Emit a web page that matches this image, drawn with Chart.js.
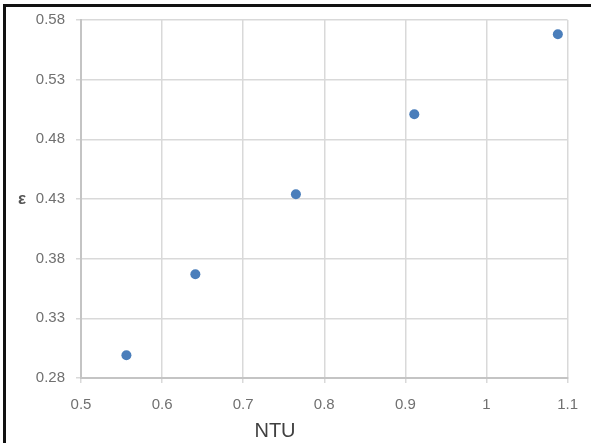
<!DOCTYPE html>
<html>
<head>
<meta charset="utf-8">
<script src="https://cdn.jsdelivr.net/npm/chart.js@4.4.1/dist/chart.umd.min.js"></script>
<style>
    html, body { margin: 0; padding: 0; background: #fff; }
    #wrap { position: relative; width: 591px; height: 443px; overflow: hidden; }
    #chart { position: absolute; left: 0; top: 0; }
    #frame {
        position: absolute; left: 3px; top: 4px; width: 588px; height: 436px;
        border-top: 3px solid #111; border-left: 3px solid #111; border-bottom: 1px solid #b0b0b0;
        pointer-events: none;
    }
</style>
</head>
<body>
<div id="wrap">
    <canvas id="chart" width="591" height="443"></canvas>
    <div id="frame"></div>
</div>
<script>
// NTU vs effectiveness
const ntu = [0.556, 0.641, 0.765, 0.911, 1.088];
const effectiveness = [0.299, 0.367, 0.434, 0.501, 0.568];
const xTicks = [0.5, 0.6, 0.7, 0.8, 0.9, 1, 1.1];
const yTicks = [0.28, 0.33, 0.38, 0.43, 0.48, 0.53, 0.58];

const tickFont = { family: "'Liberation Sans Narrow', 'Liberation Sans', sans-serif", size: 15 };

// axis titles placed like the original sheet (NTU off-centre, ε beside 0.43)
const axisLabels = {
    id: 'axisLabels',
    afterDraw(chart) {
        const ctx = chart.ctx;
        const y = chart.scales.y;
        ctx.save();
        ctx.fillStyle = '#404040';
        ctx.font = "20px 'Liberation Sans Narrow', 'Liberation Sans', sans-serif";
        ctx.textAlign = 'center';
        ctx.textBaseline = 'middle';
        ctx.fillText('NTU', 275, 431);
        ctx.fillStyle = '#555555';
        ctx.font = "bold 17px 'Liberation Sans', sans-serif";
        ctx.fillText('ε', 22, y.getPixelForValue(0.43));
        ctx.restore();
    }
};

new Chart(document.getElementById('chart'), {
    type: 'scatter',
    data: {
        datasets: [{
            data: ntu.map((x, i) => ({ x: x, y: effectiveness[i] })),
            backgroundColor: '#4a7ebb',
            borderColor: '#4a7ebb',
            borderWidth: 0,
            pointRadius: 5,
            pointHoverRadius: 5
        }]
    },
    options: {
        responsive: false,
        animation: false,
        layout: { padding: { left: 6, right: 21, top: 18, bottom: 5 } },
        plugins: {
            legend: { display: false },
            tooltip: { enabled: false }
        },
        scales: {
            x: {
                type: 'linear',
                min: xTicks[0],
                max: xTicks[xTicks.length - 1],
                afterBuildTicks: scale => { scale.ticks = xTicks.map(v => ({ value: v })); },
                afterFit: scale => { scale.height = 60; },
                grid: { color: '#d9d9d9', lineWidth: 1.5, tickLength: 5 },
                border: { color: '#c4c4c4', width: 2 },
                ticks: {
                    color: '#707070',
                    font: tickFont,
                    padding: 13,
                    maxRotation: 0,
                    callback: v => String(Number(v.toFixed(2)))
                }
            },
            y: {
                type: 'linear',
                min: yTicks[0],
                max: yTicks[yTicks.length - 1],
                afterBuildTicks: scale => { scale.ticks = yTicks.map(v => ({ value: v })); },
                afterFit: scale => { scale.width = 75; },
                grid: { color: '#d9d9d9', lineWidth: 1.5, tickLength: 5 },
                border: { color: '#c4c4c4', width: 2 },
                ticks: {
                    color: '#707070',
                    font: tickFont,
                    padding: 11,
                    callback: v => v.toFixed(2)
                }
            }
        }
    },
    plugins: [axisLabels]
});
</script>
</body>
</html>
